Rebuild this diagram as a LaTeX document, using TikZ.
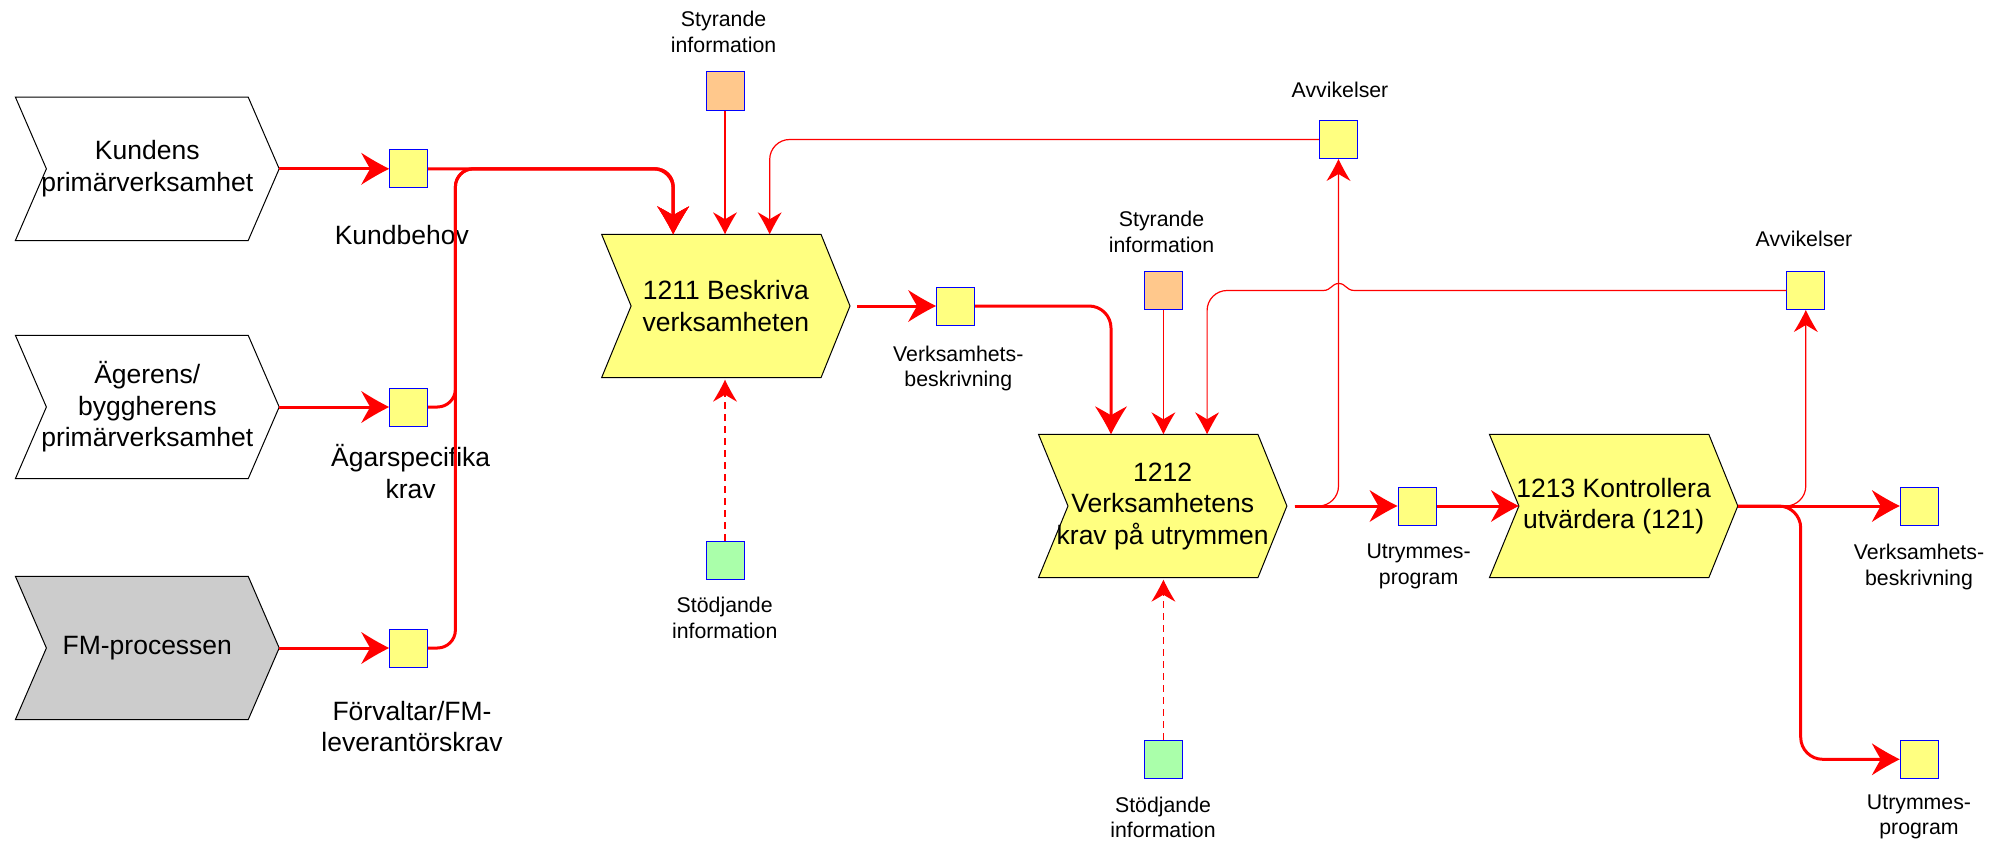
\documentclass[tikz,border=0pt]{standalone}
\usepackage{fontspec}
\setmainfont{Liberation Sans}
\usetikzlibrary{arrows.meta,backgrounds,calc}
\definecolor{boxyellow}{RGB}{255,255,128}
\definecolor{boxorange}{RGB}{255,200,140}
\definecolor{boxgreen}{RGB}{170,255,170}
\definecolor{boxgrey}{RGB}{204,204,204}
\definecolor{flowred}{RGB}{255,0,0}
\definecolor{edgeblue}{RGB}{0,0,255}
\newcommand\bigtxt{\fontsize{26.5}{31.5}\selectfont}
\newcommand\smalltxt{\fontsize{21.3}{25.7}\selectfont}
\newcommand\chevshape[4]{\draw[black, line width=1pt, fill=#2] (#1.north west) -- ([xshift=-#4]#1.north east) -- (#1.east) -- ([xshift=-#4]#1.south east) -- (#1.south west) -- ([xshift=#3]#1.west) -- cycle;}
\pgfdeclarearrow{
  name = Swoop,
  parameters = {\the\pgfarrowlength,\the\pgfarrowwidth},
  setup code = {
    \pgfarrowssettipend{0pt}
    \pgfarrowssetlineend{-0.6\pgfarrowlength}
    \pgfarrowssetbackend{-\pgfarrowlength}
    \pgfarrowssavethe\pgfarrowlength
    \pgfarrowssavethe\pgfarrowwidth
  },
  drawing code = {
    \pgfpathmoveto{\pgfpoint{0pt}{0pt}}
    \pgfpathcurveto{\pgfpoint{-0.35\pgfarrowlength}{0.15\pgfarrowwidth}}{\pgfpoint{-0.7\pgfarrowlength}{0.33\pgfarrowwidth}}{\pgfpoint{-\pgfarrowlength}{0.5\pgfarrowwidth}}
    \pgfpathcurveto{\pgfpoint{-0.9\pgfarrowlength}{0.33\pgfarrowwidth}}{\pgfpoint{-0.76\pgfarrowlength}{0.12\pgfarrowwidth}}{\pgfpoint{-0.68\pgfarrowlength}{0pt}}
    \pgfpathcurveto{\pgfpoint{-0.76\pgfarrowlength}{-0.12\pgfarrowwidth}}{\pgfpoint{-0.9\pgfarrowlength}{-0.33\pgfarrowwidth}}{\pgfpoint{-\pgfarrowlength}{-0.5\pgfarrowwidth}}
    \pgfpathcurveto{\pgfpoint{-0.7\pgfarrowlength}{-0.33\pgfarrowwidth}}{\pgfpoint{-0.35\pgfarrowlength}{-0.15\pgfarrowwidth}}{\pgfpoint{0pt}{0pt}}
    \pgfpathclose
    \pgfusepathqfill
  },
  defaults = {length=26pt, width=28pt}
}
\begin{document}
\begin{tikzpicture}[x=1pt,y=-1pt,
  chev/.style={minimum height=143pt, inner sep=0pt, align=center, font=\bigtxt},
  sq/.style={draw=edgeblue, line width=1pt, minimum width=38pt, minimum height=38pt, inner sep=0pt, fill=boxyellow},
  lbl/.style={align=center, font=\smalltxt, inner sep=0pt},
  blbl/.style={align=center, font=\bigtxt, inner sep=0pt},
  flowthick/.style={draw=flowred, line width=3pt, -{Swoop[length=28pt,width=32pt]}},
  flowthin/.style={draw=flowred, line width=1.2pt, -{Swoop[length=22pt,width=24pt]}},
  support/.style={flowthin, dash pattern=on 7pt off 5pt},
]
\useasboundingbox (0,0) rectangle (2006,843);

% input chevrons
\node[chev, minimum width=263.4pt] (kund) at (147.3,168.8) {Kundens\\primärverksamhet};
\node[chev, minimum width=263.4pt] (ager) at (147.3,407) {Ägerens/\\byggherens\\primärverksamhet};
\node[chev, minimum width=263.4pt] (fm) at (147.3,648) {FM-processen};
% process chevrons
\node[chev, minimum width=248pt] (p1211) at (725.8,306) {1211 Beskriva\\verksamheten};
\node[chev, minimum width=248pt] (p1212) at (1162.7,506) {1212\\Verksamhetens\\krav på utrymmen};
\node[chev, minimum width=248pt] (p1213) at (1613.6,506) {1213 Kontrollera\\utvärdera (121)};

\begin{scope}[on background layer]
\chevshape{kund}{white}{31pt}{31pt}
\chevshape{ager}{white}{31pt}{31pt}
\chevshape{fm}{boxgrey}{31pt}{31pt}
\chevshape{p1211}{boxyellow}{29.5pt}{29pt}
\chevshape{p1212}{boxyellow}{29.5pt}{29pt}
\chevshape{p1213}{boxyellow}{29.5pt}{29pt}
\end{scope}

% squares
\node[sq] (kb) at (408.7,168.8) {};
\node[sq] (as) at (408.7,407) {};
\node[sq] (fmk) at (408.7,648) {};
\node[sq, fill=boxorange] (sty1) at (725,91) {};
\node[sq] (avv1) at (1338.5,139.5) {};
\node[sq] (vb1) at (955.6,306) {};
\node[sq, fill=boxgreen] (sto1) at (725,560) {};
\node[sq, fill=boxorange] (sty2) at (1163.4,290.5) {};
\node[sq] (avv2) at (1805.8,290.5) {};
\node[sq, fill=boxgreen] (sto2) at (1163.4,759.3) {};
\node[sq] (up1) at (1417,506) {};
\node[sq] (vb2) at (1919.3,506) {};
\node[sq] (up2) at (1919.3,759.3) {};

% labels
\node[blbl] (kbl) at (401.8,235) {Kundbehov};
\node[blbl] (asl) at (410.7,471.3) {Ägarspecifika\\krav};
\node[blbl] (fml) at (412,726.5) {Förvaltar/FM-\\leverantörskrav};
\node[lbl] (sty1l) at (723.6,32.2) {Styrande\\information};
\node[lbl] (avv1l) at (1340,89.5) {Avvikelser};
\node[lbl] (vb1l) at (958.3,368.5) {Verksamhets-\\beskrivning};
\node[lbl] (sto1l) at (724.7,618) {Stödjande\\information};
\node[lbl] (sty2l) at (1161.5,231.7) {Styrande\\information};
\node[lbl] (avv2l) at (1804,239.3) {Avvikelser};
\node[lbl] (up1l) at (1418.6,566.7) {Utrymmes-\\program};
\node[lbl] (vb2l) at (1919,566.7) {Verksamhets-\\beskrivning};
\node[lbl] (up2l) at (1919,817) {Utrymmes-\\program};
\node[lbl] (sto2l) at (1163,817.5) {Stödjande\\information};

% thick flows
\draw[flowthick] (kund.east) -- (kb.west);
\draw[flowthick] (ager.east) -- (as.west);
\draw[flowthick] (fm.east) -- (fmk.west);
\draw[flowthick, rounded corners=20pt] (kb.east) -| ([xshift=-52.6pt]p1211.north);
\draw[flowthick, rounded corners=18pt] (as.east) -| (455.4,168.8) -| ([xshift=-52.6pt]p1211.north);
\draw[flowthick, rounded corners=18pt] (fmk.east) -| (455.4,168.8) -| ([xshift=-52.6pt]p1211.north);
\draw[flowthick, shorten <=7pt] (p1211.east) -- (vb1.west);
\draw[flowthick, rounded corners=22pt] (vb1.east) -| ([xshift=-51.7pt]p1212.north);
\draw[flowthick, shorten <=8pt] (p1212.east) -- (up1.west);
\draw[flowthick] (up1.east) -- ([xshift=29.5pt]p1213.west);
\draw[flowthick] (p1213.east) -- (vb2.west);
\draw[flowthick, rounded corners=22pt] (p1213.east) -| (1800.7,640) |- (up2.west);

% thin flows
\draw[flowthin] (sty1.south) -- (sty1.south |- p1211.north);
\draw[flowthin, rounded corners=20pt] (avv1.west) -| ([xshift=43.9pt]p1211.north);
\draw[flowthin] (sty2.south) -- (sty2.south |- p1212.north);
\coordinate (hopR) at (1354.5,290.5);
\coordinate (hopL) at (1323,290.5);
\draw[flowred, line width=1.2pt] (avv2.west) -- (hopR) .. controls (1346,290.5) and (1346,283.5) .. (1338.8,283.5) .. controls (1331.5,283.5) and (1331.5,290.5) .. (hopL);
\draw[flowthin, rounded corners=20pt] (hopL) -| ([xshift=44.4pt]p1212.north);
\draw[flowthin, rounded corners=20pt, shorten <=8pt] (p1212.east) -| (avv1.south);
\draw[flowthin, rounded corners=20pt] (p1213.east) -| (avv2.south);
\draw[support, shorten >=2pt] (sto1.north) -- (sto1.north |- p1211.south);
\draw[support, shorten >=2pt] (sto2.north) -- (sto2.north |- p1212.south);
\end{tikzpicture}
\end{document}
